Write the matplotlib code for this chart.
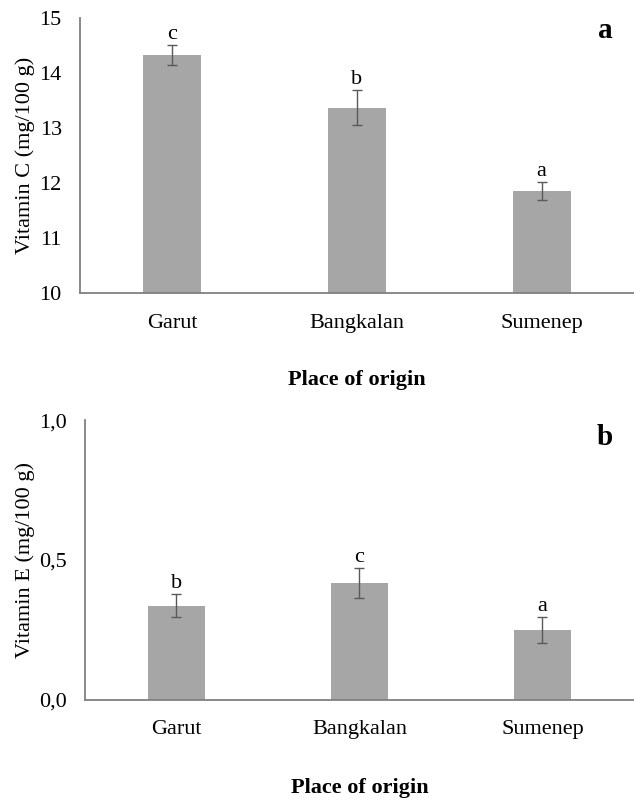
import matplotlib
matplotlib.use("Agg")
import matplotlib.pyplot as plt

categories = ["Garut", "Bangkalan", "Sumenep"]
vitc = [14.32, 13.37, 11.85]
vitc_err = [0.18, 0.32, 0.17]
vitc_letters = ["c", "b", "a"]
vite = [0.337, 0.417, 0.25]
vite_err = [0.041, 0.053, 0.047]
vite_letters = ["b", "c", "a"]

plt.rcParams['font.family'] = ['Liberation Serif', 'DejaVu Serif']

fig = plt.figure(figsize=(6.34, 8.0), dpi=100)
bar_color = "#a6a6a6"
err_color = "#595959"
axis_color = "#808080"
FS = 16

def panel(rect, vals, errs, letters, ylim, ticks, ticklabels, ylabel, tag, letter_off, tagpos, xlpad):
    ax = fig.add_axes(rect)
    x = list(range(len(categories)))
    ax.bar(x, vals, width=0.315, color=bar_color, zorder=2)
    ax.errorbar(x, vals, yerr=errs, fmt="none", ecolor=err_color, elinewidth=1.0,
                capsize=3.3, capthick=1.0, zorder=3)
    for xi, v, e, l in zip(x, vals, errs, letters):
        ax.text(xi, v + e + letter_off, l, ha="center", va="bottom", fontsize=FS)
    ax.set_xlim(-0.5, 2.5)
    ax.set_ylim(*ylim)
    ax.set_yticks(ticks)
    ax.set_yticklabels(ticklabels, fontsize=FS)
    ax.set_xticks(x)
    ax.set_xticklabels(categories, fontsize=FS)
    ax.tick_params(axis="x", length=0, pad=15)
    ax.tick_params(axis="y", length=0, pad=13)
    for s in ["top", "right"]:
        ax.spines[s].set_visible(False)
    for s in ["left", "bottom"]:
        ax.spines[s].set_color(axis_color)
        ax.spines[s].set_linewidth(1.3)
    ax.set_ylabel(ylabel, fontsize=FS, labelpad=3)
    ax.set_xlabel("Place of origin", fontsize=FS, fontweight="bold", labelpad=xlpad)
    ax.text(tagpos[0], tagpos[1], tag, transform=ax.transAxes, fontsize=21, fontweight="bold",
            ha="center", va="center")
    return ax

panel([0.126, 0.634, 0.874, 0.3435], vitc, vitc_err, vitc_letters, (10, 15),
      [10, 11, 12, 13, 14, 15], ["10", "11", "12", "13", "14", "15"],
      "Vitamin C (mg/100 g)", "a", 0.02, (0.948, 0.955), 27)
panel([0.134, 0.1255, 0.866, 0.349], vite, vite_err, vite_letters, (0, 1.0),
      [0, 0.5, 1.0], ["0,0", "0,5", "1,0"],
      "Vitamin E (mg/100 g)", "b", 0.004, (0.947, 0.94), 28)

fig.savefig("out.png", dpi=100)
